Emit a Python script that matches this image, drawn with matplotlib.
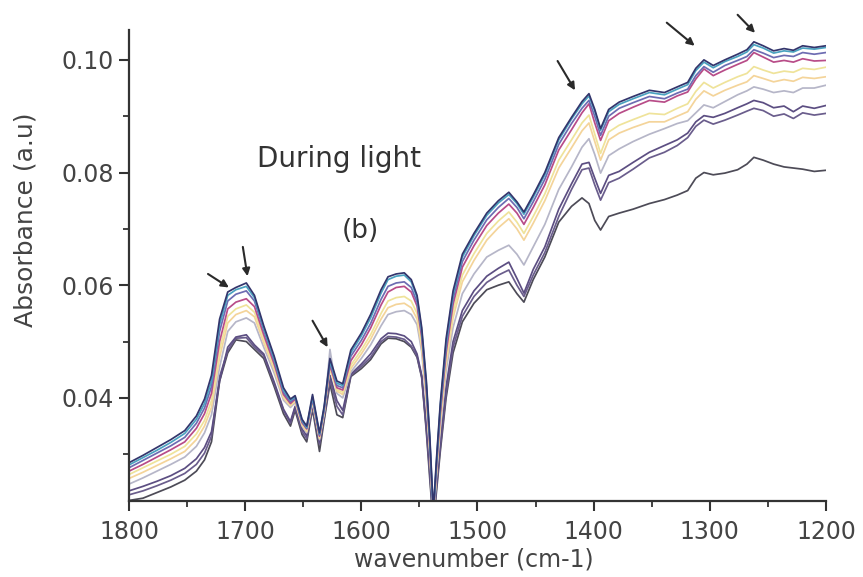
import matplotlib
matplotlib.use("Agg")
import matplotlib.pyplot as plt
from matplotlib.ticker import MultipleLocator, FormatStrFormatter

wavenumber = [1800, 1788, 1776, 1764, 1752, 1742, 1735, 1729, 1722, 1715, 1708, 1699, 1692, 1684, 1675,
              1667, 1661, 1657, 1651, 1647, 1642, 1636, 1632, 1627, 1621, 1616, 1609, 1600, 1592, 1583,
              1577, 1570, 1563, 1557, 1552, 1548, 1544, 1541, 1538, 1535, 1532, 1527, 1521, 1513, 1503,
              1492, 1482, 1473, 1466, 1460, 1452, 1442, 1430, 1419, 1410, 1404, 1399, 1394, 1387, 1378,
              1366, 1352, 1339, 1328, 1319, 1312, 1305, 1297, 1287, 1276, 1268, 1262, 1254, 1245, 1236,
              1228, 1220, 1210, 1200]

s1 = [0.0285, 0.0298, 0.0312, 0.0326, 0.0342, 0.0368, 0.0398, 0.0440,
      0.0540, 0.0588, 0.0596, 0.0604, 0.0582, 0.0528, 0.0474, 0.0418, 0.0398, 0.0404,
      0.0362, 0.0350, 0.0406, 0.0338, 0.0385, 0.0470, 0.0430, 0.0425, 0.0485,
      0.0515, 0.0548, 0.0592, 0.0615, 0.0620, 0.0622, 0.0610, 0.0582, 0.0525, 0.0430,
      0.0330, 0.0200, 0.0300, 0.0390, 0.0505,
      0.0590, 0.0655, 0.0692, 0.0728, 0.0750, 0.0765, 0.0748, 0.0730, 0.0760, 0.0800, 0.0862,
      0.0898, 0.0926, 0.0940, 0.0912, 0.0878, 0.0912, 0.0925, 0.0935, 0.0946, 0.0942, 0.0952, 0.0960,
      0.0985, 0.1000, 0.0990, 0.1000, 0.1010, 0.1018, 0.1032, 0.1025, 0.1016, 0.1020, 0.1017, 0.1025,
      0.1022, 0.1025]
s2 = [0.0281, 0.0294, 0.0307, 0.0321, 0.0337, 0.0362, 0.0390, 0.0430,
      0.0530, 0.0582, 0.0592, 0.0598, 0.0578, 0.0524, 0.0470, 0.0414, 0.0396, 0.0402,
      0.0360, 0.0348, 0.0402, 0.0336, 0.0382, 0.0466, 0.0426, 0.0422, 0.0480,
      0.0510, 0.0542, 0.0586, 0.0610, 0.0616, 0.0618, 0.0606, 0.0578, 0.0520, 0.0425,
      0.0325, 0.0195, 0.0295, 0.0385, 0.0498,
      0.0584, 0.0650, 0.0688, 0.0724, 0.0746, 0.0761, 0.0745, 0.0726, 0.0756, 0.0796, 0.0858,
      0.0895, 0.0922, 0.0936, 0.0909, 0.0875, 0.0908, 0.0921, 0.0931, 0.0942, 0.0938, 0.0948, 0.0956,
      0.0981, 0.0996, 0.0986, 0.0997, 0.1006, 0.1014, 0.1027, 0.1021, 0.1012, 0.1016, 0.1014, 0.1021,
      0.1019, 0.1022]
s3 = [0.0276, 0.0289, 0.0302, 0.0315, 0.0330, 0.0355, 0.0382, 0.0420,
      0.0518, 0.0572, 0.0584, 0.0590, 0.0572, 0.0520, 0.0466, 0.0410, 0.0393, 0.0400,
      0.0358, 0.0346, 0.0400, 0.0334, 0.0380, 0.0462, 0.0422, 0.0418, 0.0474,
      0.0502, 0.0532, 0.0575, 0.0598, 0.0604, 0.0606, 0.0596, 0.0570, 0.0515, 0.0420,
      0.0320, 0.0190, 0.0290, 0.0378, 0.0490,
      0.0576, 0.0642, 0.0680, 0.0716, 0.0738, 0.0754, 0.0738, 0.0718, 0.0748, 0.0788, 0.0850,
      0.0887, 0.0914, 0.0928, 0.0900, 0.0866, 0.0900, 0.0914, 0.0924, 0.0935, 0.0931, 0.0941, 0.0948,
      0.0972, 0.0988, 0.0978, 0.0990, 0.0999, 0.1006, 0.1018, 0.1012, 0.1004, 0.1008, 0.1006, 0.1013,
      0.1010, 0.1013]
s4 = [0.0270, 0.0282, 0.0295, 0.0308, 0.0322, 0.0346, 0.0372, 0.0408,
      0.0500, 0.0558, 0.0570, 0.0576, 0.0562, 0.0512, 0.0460, 0.0406, 0.0390, 0.0398,
      0.0356, 0.0345, 0.0398, 0.0332, 0.0378, 0.0458, 0.0418, 0.0414, 0.0466,
      0.0494, 0.0524, 0.0565, 0.0588, 0.0596, 0.0598, 0.0588, 0.0563, 0.0508, 0.0412,
      0.0315, 0.0188, 0.0285, 0.0370, 0.0480,
      0.0566, 0.0632, 0.0670, 0.0706, 0.0728, 0.0744, 0.0728, 0.0708, 0.0738, 0.0778, 0.0840,
      0.0876, 0.0906, 0.0922, 0.0888, 0.0857, 0.0892, 0.0905, 0.0916, 0.0928, 0.0925, 0.0936, 0.0943,
      0.0966, 0.0984, 0.0972, 0.0982, 0.0992, 0.0999, 0.1013, 0.1005, 0.0996, 0.0999, 0.0996, 0.1002,
      0.0998, 0.0999]
s5 = [0.0264, 0.0276, 0.0288, 0.0300, 0.0314, 0.0336, 0.0360, 0.0395,
      0.0485, 0.0545, 0.0558, 0.0565, 0.0552, 0.0505, 0.0455, 0.0403, 0.0388, 0.0396,
      0.0354, 0.0343, 0.0396, 0.0330, 0.0376, 0.0455, 0.0415, 0.0410, 0.0458,
      0.0485, 0.0512, 0.0550, 0.0572, 0.0578, 0.0580, 0.0572, 0.0550, 0.0498, 0.0405,
      0.0310, 0.0185, 0.0280, 0.0362, 0.0470,
      0.0553, 0.0618, 0.0656, 0.0692, 0.0714, 0.0730, 0.0712, 0.0692, 0.0722, 0.0762, 0.0822,
      0.0858, 0.0888, 0.0902, 0.0868, 0.0834, 0.0872, 0.0884, 0.0894, 0.0905, 0.0903, 0.0914, 0.0922,
      0.0944, 0.0960, 0.0950, 0.0960, 0.0970, 0.0976, 0.0988, 0.0982, 0.0976, 0.0980, 0.0978, 0.0985,
      0.0983, 0.0987]
s6 = [0.0257, 0.0268, 0.0280, 0.0292, 0.0305, 0.0326, 0.0350, 0.0383,
      0.0472, 0.0533, 0.0548, 0.0555, 0.0544, 0.0498, 0.0450, 0.0400, 0.0386, 0.0394,
      0.0352, 0.0340, 0.0394, 0.0328, 0.0374, 0.0452, 0.0412, 0.0406, 0.0452,
      0.0478, 0.0504, 0.0540, 0.0560, 0.0566, 0.0568, 0.0560, 0.0540, 0.0490, 0.0398,
      0.0305, 0.0182, 0.0275, 0.0355, 0.0460,
      0.0542, 0.0606, 0.0644, 0.0680, 0.0702, 0.0718, 0.0700, 0.0680, 0.0710, 0.0750, 0.0808,
      0.0844, 0.0874, 0.0888, 0.0855, 0.0822, 0.0858, 0.0870, 0.0880, 0.0890, 0.0890, 0.0900, 0.0908,
      0.0930, 0.0945, 0.0936, 0.0946, 0.0955, 0.0961, 0.0972, 0.0967, 0.0961, 0.0965, 0.0962, 0.0969,
      0.0967, 0.0970]
s7 = [0.0247, 0.0258, 0.0270, 0.0282, 0.0295, 0.0314, 0.0338, 0.0370,
      0.0455, 0.0518, 0.0535, 0.0542, 0.0533, 0.0490, 0.0444, 0.0396, 0.0383, 0.0392,
      0.0350, 0.0338, 0.0392, 0.0326, 0.0372, 0.0486, 0.0408, 0.0400, 0.0446,
      0.0470, 0.0494, 0.0528, 0.0548, 0.0553, 0.0555, 0.0548, 0.0530, 0.0482, 0.0390,
      0.0300, 0.0180, 0.0270, 0.0345, 0.0448,
      0.0525, 0.0585, 0.0620, 0.0650, 0.0662, 0.0671, 0.0655, 0.0636, 0.0668, 0.0708, 0.0770,
      0.0810, 0.0845, 0.0860, 0.0832, 0.0799, 0.0830, 0.0842, 0.0855, 0.0868, 0.0878, 0.0887, 0.0892,
      0.0906, 0.0920, 0.0915, 0.0926, 0.0938, 0.0945, 0.0952, 0.0948, 0.0942, 0.0945, 0.0942, 0.0950,
      0.0950, 0.0955]
s8 = [0.0235, 0.0243, 0.0252, 0.0262, 0.0275, 0.0292, 0.0312, 0.0340,
      0.0430, 0.0490, 0.0508, 0.0512, 0.0494, 0.0478, 0.0428, 0.0380, 0.0358, 0.0385,
      0.0345, 0.0333, 0.0388, 0.0322, 0.0368, 0.0440, 0.0395, 0.0378, 0.0442,
      0.0460, 0.0478, 0.0505, 0.0515, 0.0514, 0.0510, 0.0500, 0.0478, 0.0440, 0.0350,
      0.0275, 0.0178, 0.0255, 0.0320, 0.0420,
      0.0500, 0.0555, 0.0590, 0.0616, 0.0630, 0.0641, 0.0612, 0.0586, 0.0628, 0.0668, 0.0735,
      0.0780, 0.0815, 0.0818, 0.0790, 0.0763, 0.0795, 0.0802, 0.0818, 0.0836, 0.0848, 0.0858, 0.0870,
      0.0890, 0.0901, 0.0898, 0.0905, 0.0915, 0.0922, 0.0928, 0.0924, 0.0915, 0.0918, 0.0908, 0.0918,
      0.0914, 0.0919]
s9 = [0.0228, 0.0235, 0.0244, 0.0254, 0.0266, 0.0282, 0.0302, 0.0332,
      0.0438, 0.0484, 0.0506, 0.0507, 0.0490, 0.0475, 0.0425, 0.0378, 0.0355, 0.0383,
      0.0340, 0.0328, 0.0385, 0.0318, 0.0364, 0.0432, 0.0385, 0.0370, 0.0440,
      0.0456, 0.0472, 0.0500, 0.0509, 0.0508, 0.0504, 0.0492, 0.0474, 0.0438, 0.0345,
      0.0265, 0.0176, 0.0248, 0.0312, 0.0408,
      0.0490, 0.0545, 0.0580, 0.0605, 0.0618, 0.0627, 0.0600, 0.0580, 0.0618, 0.0658, 0.0722,
      0.0770, 0.0805, 0.0808, 0.0778, 0.0751, 0.0782, 0.0790, 0.0806, 0.0826, 0.0836, 0.0848, 0.0862,
      0.0882, 0.0893, 0.0886, 0.0893, 0.0902, 0.0909, 0.0914, 0.0910, 0.0900, 0.0904, 0.0896, 0.0906,
      0.0902, 0.0905]
s10 = [0.0218, 0.0222, 0.0232, 0.0242, 0.0254, 0.0270, 0.0290, 0.0322,
       0.0430, 0.0480, 0.0503, 0.0500, 0.0486, 0.0470, 0.0420, 0.0372, 0.0350, 0.0378,
       0.0335, 0.0322, 0.0380, 0.0305, 0.0360, 0.0425, 0.0370, 0.0365, 0.0438,
       0.0452, 0.0468, 0.0496, 0.0506, 0.0505, 0.0500, 0.0490, 0.0472, 0.0436, 0.0340,
       0.0255, 0.0175, 0.0240, 0.0305, 0.0400,
       0.0480, 0.0535, 0.0568, 0.0592, 0.0600, 0.0606, 0.0585, 0.0570, 0.0610, 0.0650, 0.0712,
       0.0740, 0.0755, 0.0745, 0.0715, 0.0698, 0.0722, 0.0728, 0.0735, 0.0745, 0.0752, 0.0760, 0.0768,
       0.0790, 0.0800, 0.0796, 0.0799, 0.0805, 0.0815, 0.0827, 0.0822, 0.0815, 0.0810, 0.0808, 0.0806,
       0.0802, 0.0804]

series = [s10, s9, s8, s7, s6, s5, s4, s3, s2, s1]
colors = ["#4d4b57", "#6a5d8c", "#5c4e82", "#b6b6c8", "#f4d49a", "#efe39a",
          "#b84c88", "#6d6cb2", "#4aa2c0", "#33356c"]

# annotation arrows: (start wavenumber, start absorbance, tip wavenumber, tip absorbance)
arrows = [
    (1732, 0.0620, 1714, 0.0596),
    (1702, 0.0668, 1698, 0.0616),
    (1642, 0.0537, 1629, 0.0490),
    (1431, 0.0998, 1416, 0.0946),
    (1337, 0.1066, 1313, 0.1025),
    (1276, 0.1080, 1261, 0.1048),
]

fig = plt.figure(figsize=(8.63, 5.77), dpi=100)
ax = fig.add_axes([0.1495, 0.1317, 0.8075, 0.8163])

for vals, c in zip(series, colors):
    ax.plot(wavenumber, vals, color=c, lw=1.25, solid_joinstyle="round")

for x0, y0, x1, y1 in arrows:
    ax.annotate("", xy=(x1, y1), xytext=(x0, y0), annotation_clip=False,
                arrowprops=dict(arrowstyle="-|>", color="#2a2a2a", lw=1.5,
                                mutation_scale=11, shrinkA=0, shrinkB=0))

ax.set_xlim(1800, 1200)
ax.set_ylim(0.0217, 0.1053)

ax.xaxis.set_major_locator(MultipleLocator(100))
ax.xaxis.set_minor_locator(MultipleLocator(50))
ax.yaxis.set_major_locator(MultipleLocator(0.02))
ax.yaxis.set_minor_locator(MultipleLocator(0.01))
ax.yaxis.set_major_formatter(FormatStrFormatter("%.2f"))

for side in ["top", "right"]:
    ax.spines[side].set_visible(False)
for side in ["left", "bottom"]:
    ax.spines[side].set_linewidth(1.6)
    ax.spines[side].set_color("#333333")

ax.tick_params(which="major", direction="out", length=7, width=1.5, color="#333333",
               labelcolor="#444444")
ax.tick_params(axis="y", which="major", labelsize=17, pad=4)
ax.tick_params(axis="x", which="major", labelsize=17, pad=7)
ax.tick_params(which="minor", direction="out", length=4, width=1.3, color="#333333")

ax.set_xlabel("wavenumber (cm-1)", fontsize=17, color="#444444")
ax.set_ylabel("Absorbance (a.u)", fontsize=18, color="#444444")
ax.xaxis.set_label_coords(0.495, -0.125)
ax.yaxis.set_label_coords(-0.149, 0.597)
ax.xaxis.label.set_va("center")
ax.yaxis.label.set_va("center")

ax.text(1619, 0.0824, "During light", fontsize=20, color="#333333", ha="center", va="center")
ax.text(1601, 0.0696, "(b)", fontsize=19, color="#333333", ha="center", va="center")

fig.savefig("out.png", dpi=100, facecolor="white")
